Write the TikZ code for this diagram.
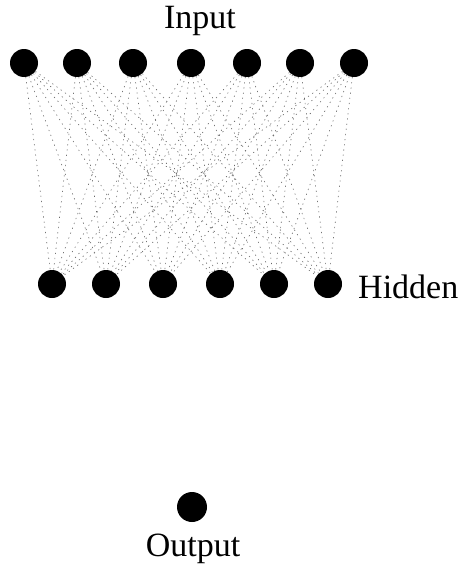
\documentclass[tikz,border=0pt]{standalone}
\usepackage{fontspec}
\setmainfont{Liberation Serif}
\begin{document}
\begin{tikzpicture}[x=1pt,y=-1pt,
  unit/.style={circle,fill=black,inner sep=0pt,minimum size=28pt},
  link/.style={draw=black!60,line width=0.6pt,dash pattern=on 1.2pt off 4pt},
  lab/.style={font=\fontsize{34}{40}\selectfont,inner sep=0pt}]
\useasboundingbox (0,0) rectangle (463,565);
\foreach \x [count=\i] in {24,77,133,191,247,300,354}
  \node[unit] (i\i) at (\x,63) {};
\foreach \x [count=\j] in {52,106,163,220,274,328}
  \node[unit] (h\j) at (\x,284) {};
\node[unit,minimum size=30pt] (o) at (192,507) {};
\foreach \i in {1,...,7}
  \foreach \j in {1,...,6}
    \draw[link] (i\i) -- (h\j);
\node[lab,anchor=base] (tin) at (200,28) {Input};
\node[lab,anchor=base west] (thid) at (358,298) {Hidden};
\node[lab,anchor=base] (tout) at (193,556) {Output};
\end{tikzpicture}
\end{document}
